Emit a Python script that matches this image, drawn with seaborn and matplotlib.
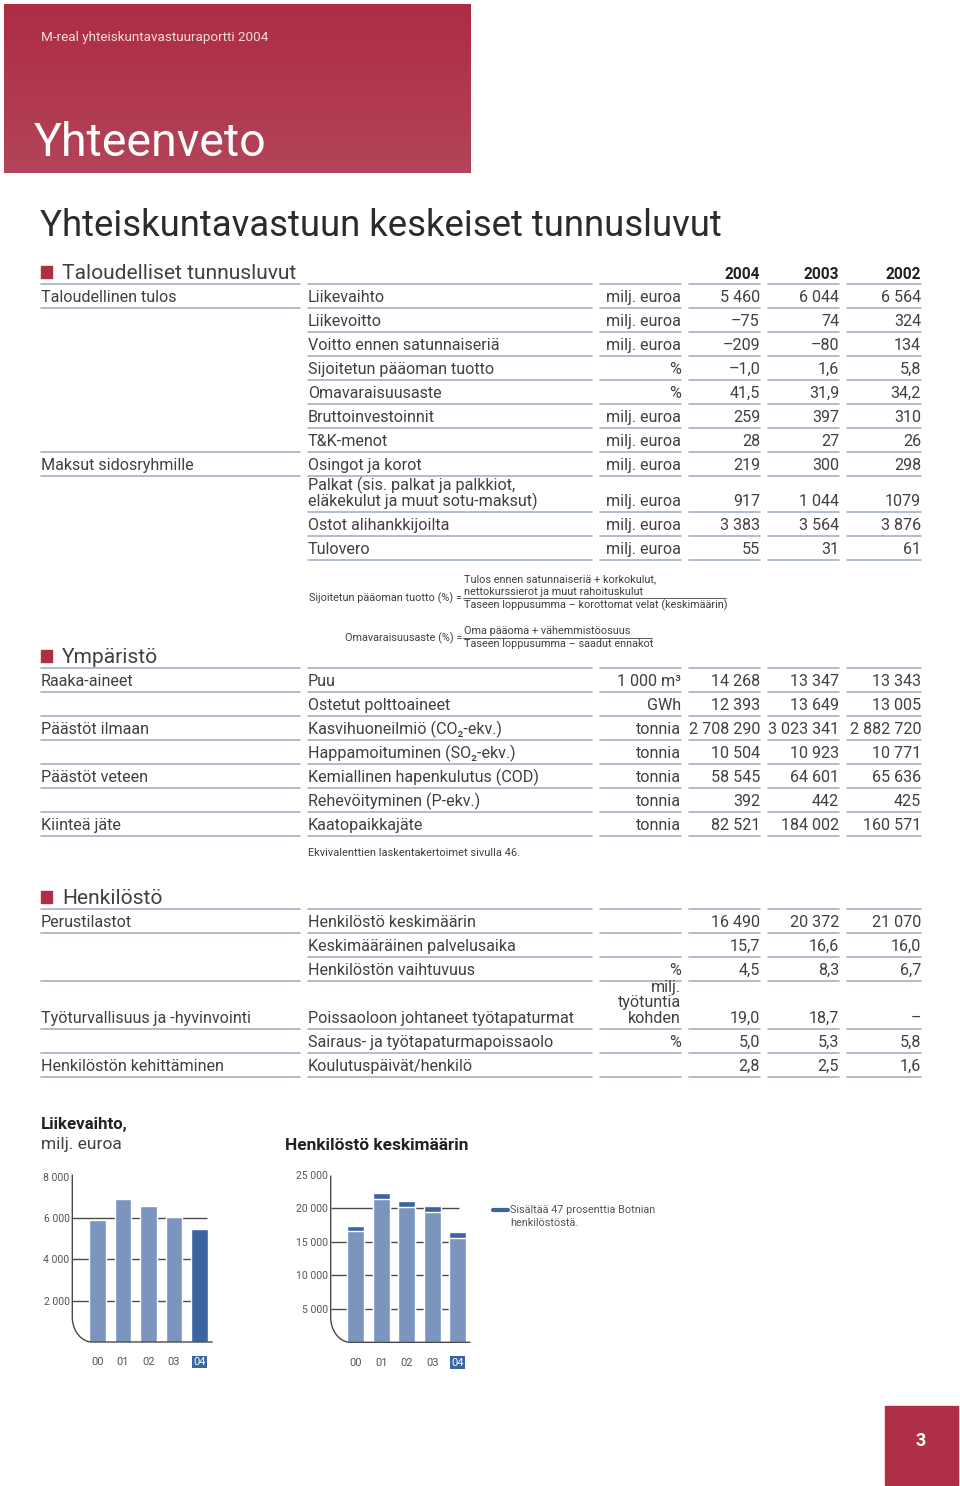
import numpy as np
import pandas as pd
import seaborn as sns
import matplotlib.pyplot as plt
from matplotlib.lines import Line2D
from matplotlib.patches import Rectangle

# --- data: taloudelliset tunnusluvut ---
fin_cat = ["Taloudellinen tulos", "", "", "", "", "", "", "Maksut sidosryhmille", "", "", ""]
fin_item = ["Liikevaihto", "Liikevoitto", "Voitto ennen satunnaiseriä", "Sijoitetun pääoman tuotto",
            "Omavaraisuusaste", "Bruttoinvestoinnit", "T&K-menot", "Osingot ja korot",
            "Palkat (sis. palkat ja palkkiot,\neläkekulut ja muut sotu-maksut)",
            "Ostot alihankkijoilta", "Tulovero"]
fin_unit = ["milj. euroa", "milj. euroa", "milj. euroa", "%", "%", "milj. euroa", "milj. euroa",
            "milj. euroa", "milj. euroa", "milj. euroa", "milj. euroa"]
fin_2004 = ["5 460", "–75", "–209", "–1,0", "41,5", "259", "28", "219", "917", "3 383", "55"]
fin_2003 = ["6 044", "74", "–80", "1,6", "31,9", "397", "27", "300", "1 044", "3 564", "31"]
fin_2002 = ["6 564", "324", "134", "5,8", "34,2", "310", "26", "298", "1079", "3 876", "61"]

# --- data: ympäristö ---
env_cat = ["Raaka-aineet", "", "Päästöt ilmaan", "", "Päästöt veteen", "", "Kiinteä jäte"]
env_item = ["Puu", "Ostetut polttoaineet", "Kasvihuoneilmiö (CO₂-ekv.)", "Happamoituminen (SO₂-ekv.)",
            "Kemiallinen hapenkulutus (COD)", "Rehevöityminen (P-ekv.)", "Kaatopaikkajäte"]
env_unit = ["1 000 m³", "GWh", "tonnia", "tonnia", "tonnia", "tonnia", "tonnia"]
env_2004 = ["14 268", "12 393", "2 708 290", "10 504", "58 545", "392", "82 521"]
env_2003 = ["13 347", "13 649", "3 023 341", "10 923", "64 601", "442", "184 002"]
env_2002 = ["13 343", "13 005", "2 882 720", "10 771", "65 636", "425", "160 571"]

# --- data: henkilöstö ---
hr_cat = ["Perustilastot", "", "", "Työturvallisuus ja -hyvinvointi", "", "Henkilöstön kehittäminen"]
hr_item = ["Henkilöstö keskimäärin", "Keskimääräinen palvelusaika", "Henkilöstön vaihtuvuus",
           "Poissaoloon johtaneet työtapaturmat", "Sairaus- ja työtapaturmapoissaolo",
           "Koulutuspäivät/henkilö"]
hr_unit = ["", "", "%", "milj.\ntyötuntia\nkohden", "%", ""]
hr_2004 = ["16 490", "15,7", "4,5", "19,0", "5,0", "2,8"]
hr_2003 = ["20 372", "16,6", "8,3", "18,7", "5,3", "2,5"]
hr_2002 = ["21 070", "16,0", "6,7", "–", "5,8", "1,6"]

year_labels = ["2004", "2003", "2002"]

# --- data: charts ---
chart_years = ["00", "01", "02", "03", "04"]
sales = [5890, 6930, 6564, 6044, 5460]
staff_total = [17400, 22300, 21070, 20372, 16490]
staff_botnia = [800, 830, 870, 850, 830]

W, H = 960, 1486
RED = "#ae2f47"
TXT = "#404040"
LINE = "#a3b2c3"
LIGHT = "#7b95bf"
DARK = "#3b65a1"
GRID = "#4a4a4a"
TFS = 11.6
LSP = 15.5

sns.set_theme(style="white")
plt.rcParams['font.family'] = ['Roboto', 'DejaVu Sans']

fig = plt.figure(figsize=(W / 100, H / 100), dpi=100)


def fx(x):
    return np.asarray(x) / W


def fy(y):
    return 1 - np.asarray(y) / H


def box(x0, y0, x1, y1):
    return [x0 / W, 1 - y1 / H, (x1 - x0) / W, (y1 - y0) / H]


def txt(x, y, s, **kw):
    kw.setdefault("color", TXT)
    fig.text(fx(x), fy(y), s, **kw)


def hline(x0, x1, y, color=LINE, lw=1.2):
    fig.add_artist(Line2D([fx(x0), fx(x1)], [fy(y), fy(y)], color=color, lw=lw))


def rect(x0, y0, x1, y1, color):
    fig.add_artist(Rectangle((fx(x0), fy(y1)), (x1 - x0) / W, (y1 - y0) / H,
                             color=color, transform=fig.transFigure))


# --- header block ---
axh = fig.add_axes(box(4, 4, 471, 173))
top = np.array([173, 44, 67]) / 255
bot = np.array([179, 68, 90]) / 255
t = np.linspace(0, 1, 100)[:, None]
grad = (top[None, :] * (1 - t) + bot[None, :] * t)[:, None, :]
axh.imshow(grad, aspect="auto", extent=[0, 1, 0, 1])
axh.axis("off")
txt(41, 38, "M-real yhteiskuntavastuuraportti 2004", fontsize=9.7, color="#f3dde1", va="center")
txt(34, 156, "Yhteenveto", fontsize=33.5, color="white", va="baseline")

txt(40, 236, "Yhteiskuntavastuun keskeiset tunnusluvut", fontsize=26.3, va="baseline", color="#2b2b2b")

COLS = [(41, 300), (308, 592), (600, 681), (689, 760), (768, 839), (847, 921)]


def cell(x, y_base, s, ha):
    # multi-line cells are stacked upward from the row's baseline
    parts = s.split("\n")
    n = len(parts)
    for k, p in enumerate(parts):
        txt(x, y_base - (n - 1 - k) * LSP, p, fontsize=TFS, ha=ha, va="baseline")


def section(line_y, title, cats, items, units, v4, v3, v2, show_years=False):
    rect(41, line_y - 18, 52, line_y - 6, RED)
    txt(62, line_y - 5, title, fontsize=15.1, va="baseline")
    if show_years:
        for (x0, x1), yl in zip(COLS[3:], year_labels):
            txt(x1, line_y - 5, yl, fontsize=11.2, fontweight="bold", ha="right", va="baseline",
                color="#222222")
    for x0, x1 in COLS[1:]:
        hline(x0, x1, line_y)
    top_y = line_y
    for c, it, u, a, b, d in zip(cats, items, units, v4, v3, v2):
        n = max(it.count("\n"), u.count("\n")) + 1
        bottom = top_y + 12 * (n + 1)
        base = bottom - 6
        if c:
            hline(41, 300, top_y)
            hline(41, 300, bottom)
            cell(41, base, c, "left")
        cell(308, base, it, "left")
        if u:
            cell(681, base, u, "right")
        for (x0, x1), v in zip(COLS[3:], (a, b, d)):
            cell(x1, base, v, "right")
        for x0, x1 in COLS[1:]:
            hline(x0, x1, bottom)
        top_y = bottom


section(284, "Taloudelliset tunnusluvut", fin_cat, fin_item, fin_unit, fin_2004, fin_2003, fin_2002,
        show_years=True)
section(668, "Ympäristö", env_cat, env_item, env_unit, env_2004, env_2003, env_2002)
section(909, "Henkilöstö", hr_cat, hr_item, hr_unit, hr_2004, hr_2003, hr_2002)

# --- formulas ---
fs = 7.8
txt(462, 598, "Sijoitetun pääoman tuotto (%) =", fontsize=fs, ha="right", va="center")
txt(464, 579, "Tulos ennen satunnaiseriä + korkokulut,", fontsize=fs, va="center")
txt(464, 592, "nettokurssierot ja muut rahoituskulut", fontsize=fs, va="center")
hline(463, 726, 598.5, color=TXT, lw=0.6)
txt(464, 605, "Taseen loppusumma – korottomat velat (keskimäärin)", fontsize=fs, va="center")
txt(462, 638, "Omavaraisuusaste (%) =", fontsize=fs, ha="right", va="center")
txt(464, 631, "Oma pääoma + vähemmistöosuus", fontsize=fs, va="center")
hline(463, 652, 637.5, color=TXT, lw=0.6)
txt(464, 644, "Taseen loppusumma – saadut ennakot", fontsize=fs, va="center")
txt(308, 853, "Ekvivalenttien laskentakertoimet sivulla 46.", fontsize=7.9, va="center")

# --- charts ---
txt(41, 1124, "Liikevaihto,", fontsize=12.2, fontweight="bold", va="center", color="#222222")
txt(41, 1145, "milj. euroa", fontsize=12.5, va="center")
txt(285, 1145, "Henkilöstö keskimäärin", fontsize=12.4, fontweight="bold", va="center", color="#222222")


def curved_axis(x_left, y_top, y_bot, x_right, rx=20, ry=25):
    th = np.linspace(np.pi, 1.5 * np.pi, 30)
    ax_ = x_left + rx + rx * np.cos(th)
    ay_ = (y_bot - ry) - ry * np.sin(th)
    xs = np.concatenate([[x_left], ax_, [x_right]])
    ys = np.concatenate([[y_top], ay_, [y_bot]])
    fig.add_artist(Line2D(fx(xs), fy(ys), color=GRID, lw=1.0))


def style_axes(ax, ticks, labels, xmax_grid):
    for s in ax.spines.values():
        s.set_visible(False)
    for p in ax.patches:
        p.set_zorder(p.get_zorder() + 5)
    ax.hlines(ticks[:-1], -0.98, xmax_grid, color=GRID, lw=1.0, zorder=1)
    ax.set_yticks(ticks, labels)
    ax.set_xlabel("")
    ax.set_ylabel("")
    ax.tick_params(axis="y", length=0, pad=2, labelsize=7.5, labelcolor="#555555")
    ax.tick_params(axis="x", length=0, pad=11, labelsize=8, labelcolor="#555555")
    ax.set_facecolor("none")
    lab = ax.get_xticklabels()[-1]
    lab.set_color("white")
    lab.set_bbox(dict(facecolor=DARK, edgecolor="none", pad=0.8))


ax1 = fig.add_axes(box(72.3, 1176.7, 212.3, 1342))
df1 = pd.DataFrame({"vuosi": chart_years, "liikevaihto": sales})
sns.barplot(data=df1, x="vuosi", y="liikevaihto", hue="vuosi", palette=[LIGHT] * 4 + [DARK],
            legend=False, width=0.64, saturation=1, ax=ax1)
ax1.set_xlim(-0.98, 4.5)
ax1.set_ylim(0, 8000)
style_axes(ax1, [2000, 4000, 6000, 8000], ["2 000", "4 000", "6 000", "8 000"], 4.29)
curved_axis(72.3, 1175, 1342, 212.3)

ax2 = fig.add_axes(box(330.7, 1175, 470, 1342.3))
df2 = pd.DataFrame({"vuosi": chart_years, "yhteensa": staff_total,
                    "ilman": [a - b for a, b in zip(staff_total, staff_botnia)]})
sns.barplot(data=df2, x="vuosi", y="yhteensa", color=DARK, width=0.65, saturation=1, ax=ax2)
n_first = len(ax2.patches)
sns.barplot(data=df2, x="vuosi", y="ilman", color=LIGHT, width=0.65, saturation=1, ax=ax2)
for p in ax2.patches[n_first:]:
    p.set_zorder(2)
ax2.set_xlim(-0.98, 4.48)
ax2.set_ylim(0, 25000)
style_axes(ax2, [5000, 10000, 15000, 20000, 25000], ["5 000", "10 000", "15 000", "20 000", "25 000"], 4.05)
curved_axis(330.7, 1176, 1342.3, 470)

hline(493, 508, 1210, color=DARK, lw=3)
txt(510, 1210, "Sisältää 47 prosenttia Botnian", fontsize=7.8, va="center", color="#555555")
txt(510, 1223, "henkilöstöstä.", fontsize=7.8, va="center", color="#555555")

# --- page number ---
rect(885, 1406, 958, 1485, RED)
txt(921, 1441, "3", fontsize=13, fontweight="bold", color="white", ha="center", va="center")

fig.savefig("out.png", dpi=100)
